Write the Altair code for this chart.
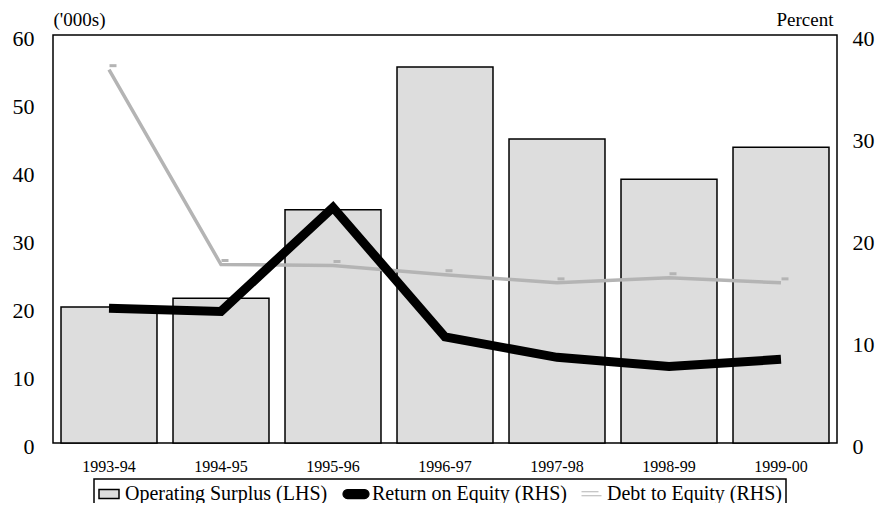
import altair as alt
import pandas as pd

periods = ["1993-94", "1994-95", "1995-96", "1996-97", "1997-98", "1998-99", "1999-00"]
operating_surplus = [20.0, 21.3, 34.3, 55.3, 44.7, 38.8, 43.5]
return_on_equity = [13.2, 12.9, 23.1, 10.4, 8.4, 7.5, 8.2]
debt_to_equity = [36.6, 17.5, 17.4, 16.5, 15.7, 16.2, 15.7]
series_names = ["Operating Surplus (LHS)", "Return on Equity (RHS)", "Debt to Equity (RHS)"]
left_ticks = [0, 10, 20, 30, 40, 50, 60]
right_ticks = [0, 10, 20, 30, 40]

BAR_FILL = "#dddddd"
GREY = "#b4b4b4"
FONT = "'Liberation Serif', 'Times New Roman', 'DejaVu Serif', serif"

df = pd.DataFrame({
    "period": periods,
    "surplus": operating_surplus,
    "roe": return_on_equity,
    "de": debt_to_equity,
})
legend_df = pd.DataFrame({"series": series_names})

xenc = alt.X("period:N", sort=periods,
             scale=alt.Scale(type="band", paddingInner=0.143, paddingOuter=0.0715),
             axis=alt.Axis(title=None, labelAngle=0, labelFontSize=16, labelPadding=15))

bars = alt.Chart(df).mark_bar(
    fill=BAR_FILL, stroke="black", strokeWidth=1.5
).encode(
    x=xenc,
    y=alt.Y("surplus:Q", scale=alt.Scale(domain=[0, 60], nice=False),
            axis=alt.Axis(orient="left", values=left_ticks, labelFontSize=22,
                          labelPadding=19, labelOffset=3,
                          title="('000s)", titleAngle=0, titleX=0, titleY=-10,
                          titleAlign="left", titleBaseline="alphabetic",
                          titleFontSize=19, titleFontWeight="normal")),
)

yright = alt.Scale(domain=[0, 40], nice=False)
right_axis = alt.Axis(orient="right", values=right_ticks, labelFontSize=22,
                      labelPadding=15, labelOffset=3,
                      title="Percent", titleAngle=0, titleX=-4, titleY=-10,
                      titleAlign="right", titleBaseline="alphabetic",
                      titleFontSize=19, titleFontWeight="normal")

de_line = alt.Chart(df).mark_line(
    strokeWidth=3.5, color=GREY
).encode(
    x=xenc,
    y=alt.Y("de:Q", scale=yright, axis=right_axis),
)

de_pts = alt.Chart(df).mark_point(
    shape="stroke", size=49, strokeWidth=3, color=GREY, xOffset=4, yOffset=-4, opacity=1
).encode(
    x=xenc,
    y=alt.Y("de:Q", scale=yright, axis=right_axis),
)

roe_line = alt.Chart(df).mark_line(
    strokeWidth=9, color="black"
).encode(
    x=xenc,
    y=alt.Y("roe:Q", scale=yright, axis=right_axis),
)

# legend-only layer (no marks drawn: data filtered out, scales have explicit domains)
legend = alt.Legend(
    title=None, orient="none", legendX=41, legendY=444, direction="horizontal",
    labelFont=FONT, labelFontSize=20, labelColor="black", labelLimit=0,
    strokeColor="black", padding=4, columnPadding=12, labelOffset=5,
    symbolSize=400, symbolOpacity=1,
)
rect_path = "M-1,-0.45H1V0.45H-1Z"
stadium_path = "M-0.85,-0.45H0.85A0.45,0.45 0 0 1 0.85,0.45H-0.85A0.45,0.45 0 0 1 -0.85,-0.45Z"
dash_path = "M-1,0.2H1M-1,-0.2H0.7"

legend_layer = alt.Chart(legend_df).transform_filter("false").mark_point(
    size=400
).encode(
    fill=alt.Fill("series:N", scale=alt.Scale(domain=series_names,
                  range=[BAR_FILL, "black", "transparent"]), legend=legend),
    stroke=alt.Stroke("series:N", scale=alt.Scale(domain=series_names,
                      range=["black", "black", GREY]), legend=legend),
    shape=alt.Shape("series:N", scale=alt.Scale(domain=series_names,
                    range=[rect_path, stadium_path, dash_path]), legend=legend),
    strokeWidth=alt.StrokeWidth("series:N", scale=alt.Scale(domain=series_names,
                                range=[1.5, 1, 3.5]), legend=legend),
)

right = alt.layer(de_line, de_pts, roe_line)

chart = alt.layer(bars, right, legend_layer).resolve_scale(y="independent").properties(
    width=784, height=408,
    autosize=alt.AutoSizeParams(type="none"),
    padding={"left": 45, "top": 27, "right": 38, "bottom": 60},
).configure_view(
    stroke="black", strokeWidth=1.5
).configure_axis(
    grid=False, ticks=False, domain=False, labelFont=FONT, titleFont=FONT,
    labelColor="black", titleColor="black"
).configure_legend(
    strokeWidth=1.5
)

chart.save("out.html", embed_options={"renderer": "svg", "actions": False})
